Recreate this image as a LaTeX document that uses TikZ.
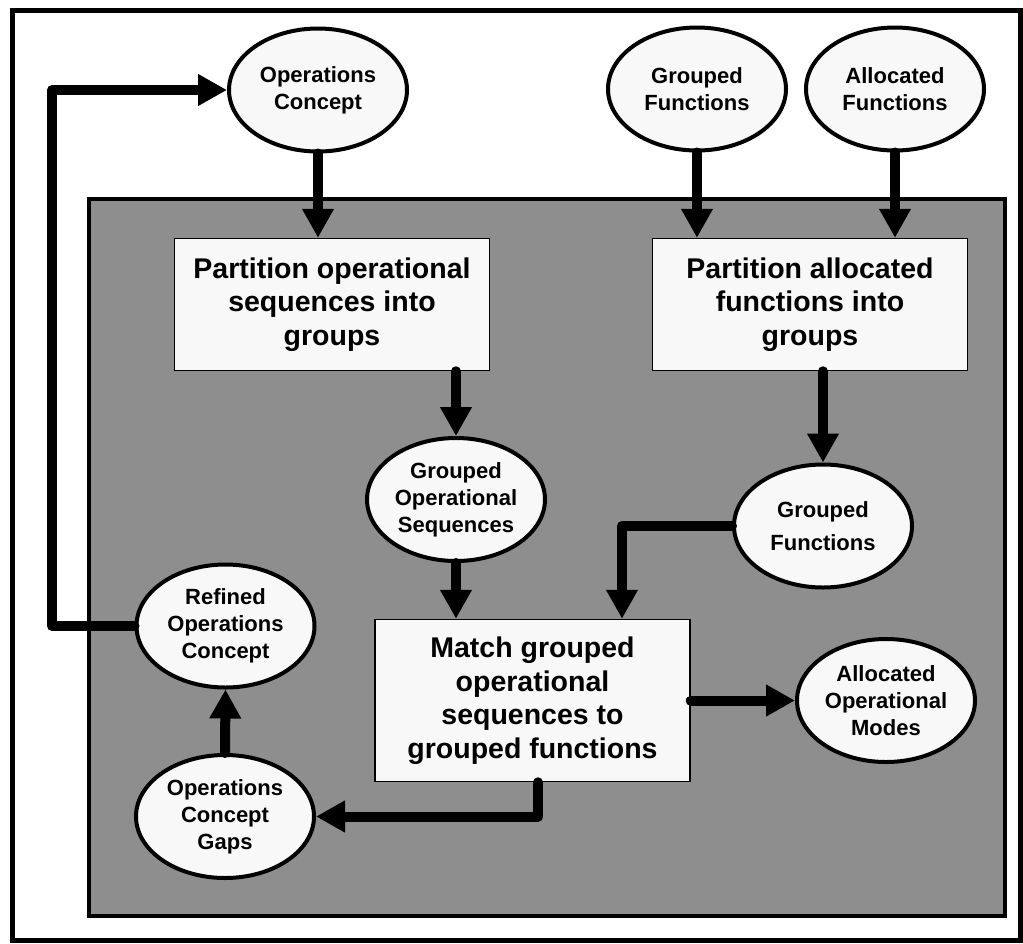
\documentclass[tikz,border=0pt]{standalone}
\usepackage{fontspec}
\setmainfont{Liberation Sans}
\usetikzlibrary{arrows.meta,shapes.geometric}
\definecolor{panelgray}{RGB}{142,142,142}
\definecolor{paper}{RGB}{248,248,248}

\begin{document}
\begin{tikzpicture}[x=1pt,y=-1pt,
        flow/.style={-{Triangle[width=30pt,length=29pt]},line width=10pt,line cap=round,line join=round},
        item/.style={ellipse,draw,line width=4pt,fill=paper,minimum width=178pt,minimum height=123pt,
            inner sep=0pt,align=center,font=\fontsize{22}{27}\selectfont\bfseries},
        task/.style={rectangle,draw,line width=1.5pt,fill=paper,minimum width=315pt,minimum height=132pt,
            inner sep=0pt,align=center,font=\fontsize{28.5}{33.5}\selectfont\bfseries}]
            \useasboundingbox (0,0) rectangle (1023,943);
            \draw[line width=5pt] (12,10) rectangle (1020,940);
            \draw[line width=4pt,fill=panelgray] (89,199) rectangle (1005,916);

            \node[item] (opsc)  at (318,90)    {Operations\\Concept};
            \node[item] (gfin)  at (697,89)    {Grouped\\Functions};
            \node[item] (afin)  at (895,89)    {Allocated\\Functions};
            \node[task] (popg)  at (332,304.5) {Partition operational\\sequences into\\groups};
            \node[task] (pafg)  at (810,304.5) {Partition allocated\\functions into\\groups};
            \node[item] (gos)   at (456,499.5) {Grouped\\Operational\\Sequences};
            \node[item,font=\fontsize{22}{33}\selectfont\bfseries] (gfout) at (823,526) {Grouped\\Functions};
            \node[task,minimum height=162pt] (match) at (532.5,700.5)
                {Match grouped\\operational\\sequences to\\grouped functions};
            \node[item] (aom)   at (886,700.5) {Allocated\\Operational\\Modes};
            \node[item] (roc)   at (225.5,626) {Refined\\Operations\\Concept};
            \node[item] (gaps)  at (225,816.5) {Operations\\Concept\\Gaps};
            \coordinate (fb) at (52,626);

            \draw[flow] (opsc.south) -- (opsc.south |- popg.north);
            \draw[flow] (gfin.south) -- (gfin.south |- pafg.north);
            \draw[flow] (afin.south) -- (afin.south |- pafg.north);
            \draw[flow] (gos.north |- popg.south) -- (gos.north);
            \draw[flow] (gfout.north |- pafg.south) -- (gfout.north);
            \draw[flow] (gos.south) -- (gos.south |- match.north);
            \draw[flow] (gfout.west) -| ([xshift=89.5pt]match.north);
            \draw[flow] (match.east) -- (aom.west);
            \draw[flow] ([xshift=5.5pt]match.south) |- (gaps.east);
            \draw[flow] (gaps.north) -- (roc.south);
            \draw[flow] (roc.west) -- (fb) |- (opsc.west);
        \end{tikzpicture}
\end{document}
